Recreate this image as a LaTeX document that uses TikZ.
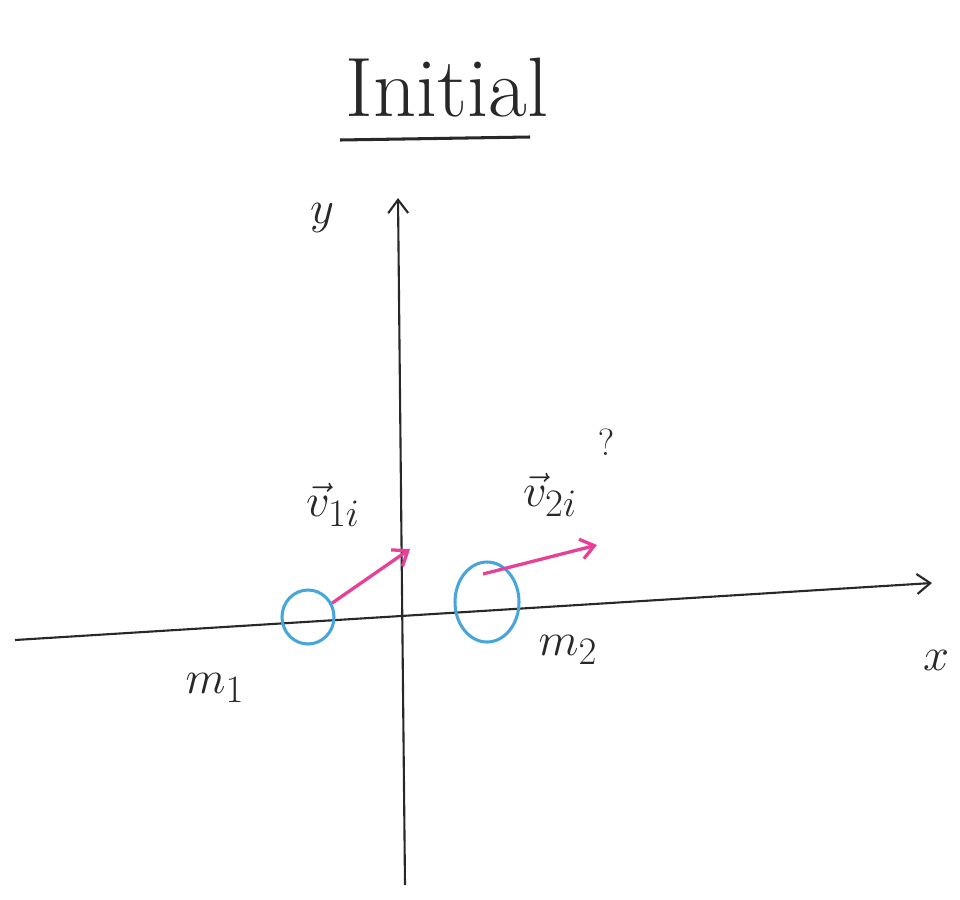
\documentclass[tikz,border=0pt]{standalone}
\usetikzlibrary{arrows.meta,shapes.geometric}
\definecolor{pinkv}{RGB}{232,64,150}
\definecolor{bluem}{RGB}{70,165,220}
\definecolor{ink}{RGB}{40,40,40}
\newcommand{\skmath}[1]{\scalebox{1.6}{\Huge$#1$}}
\begin{document}
\begin{tikzpicture}[x=0.03cm,y=-0.03cm,
  axis/.style={ink,line width=1.8pt,-{Straight Barb[length=4mm,width=6mm]}},
  mass/.style={bluem,line width=2.6pt},
  vel/.style={pinkv,line width=2.8pt,-{Straight Barb[length=4mm,width=6mm]}},
  lab/.style={ink,inner sep=0}]
\useasboundingbox[fill=white] (0,0) rectangle (960,899);
% title
\node[lab,font=\fontsize{72}{76}\selectfont] (title) at (447,88) {Initial};
\draw[ink,line width=2.6pt] (340,140) -- (530,137);
% axes
\coordinate (yb) at (405,885);
\coordinate (yt) at (398,198);
\coordinate (xl) at (15,640);
\coordinate (xr) at (932,583);
\draw[axis] (yb) -- (yt);
\draw[axis] (xl) -- (xr);
\node[lab] (ylab) at (322,218) {\skmath{y}};
\node[lab] (xlab) at (936,660) {\skmath{x}};
% masses
\node[mass,draw,ellipse,minimum width=1.56cm,minimum height=1.62cm,inner sep=0] (m1) at (308,617) {};
\node[mass,draw,ellipse,minimum width=1.92cm,minimum height=2.4cm,inner sep=0] (m2) at (487,602) {};
\node[lab] (m1lab) at (215,688) {\skmath{m_1}};
\node[lab] (m2lab) at (568,650) {\skmath{m_2}};
% velocities
\coordinate (v1e) at (410,549);
\coordinate (v2s) at (483,574);
\coordinate (v2e) at (597,545);
\draw[vel] (m1.30) -- (v1e);
\draw[vel] (v2s) -- (v2e);
\node[lab] (v1lab) at (333,505) {\skmath{\vec v_{1i}}};
\node[lab] (v2lab) at (550,495) {\skmath{\vec v_{2i}}};
\node[lab] (q) at (606,442) {\scalebox{1.3}{\Huge$?$}};
\end{tikzpicture}
\end{document}
